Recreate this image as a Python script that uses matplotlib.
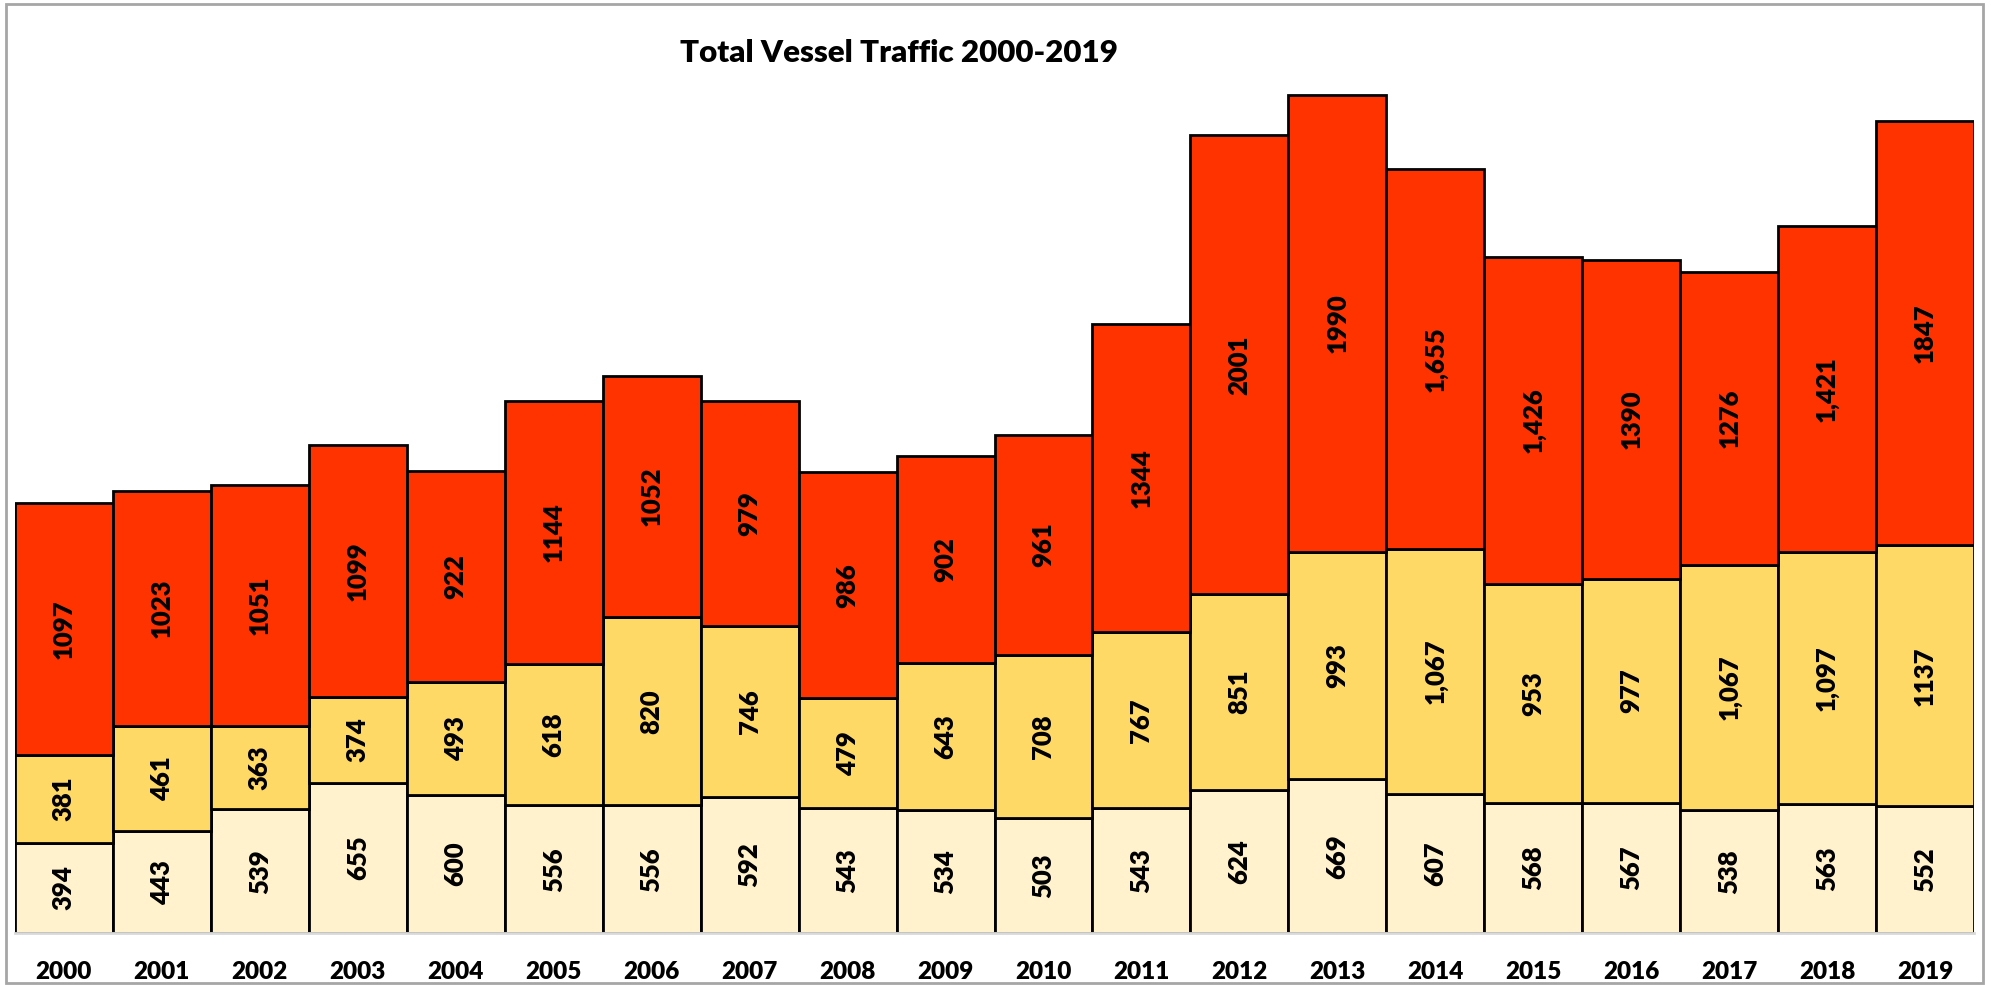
import numpy as np
import matplotlib.pyplot as plt
from matplotlib.patches import Rectangle

# === Data ===
years = [str(y) for y in range(2000, 2020)]
bottom_vals = [394, 443, 539, 655, 600, 556, 556, 592, 543, 534,
               503, 543, 624, 669, 607, 568, 567, 538, 563, 552]
middle_vals = [381, 461, 363, 374, 493, 618, 820, 746, 479, 643,
               708, 767, 851, 993, 1067, 953, 977, 1067, 1097, 1137]
top_vals = [1097, 1023, 1051, 1099, 922, 1144, 1052, 979, 986, 902,
            961, 1344, 2001, 1990, 1655, 1426, 1390, 1276, 1421, 1847]
# labels as printed on the chart (mixed comma formatting)
bottom_labels = [str(v) for v in bottom_vals]
middle_labels = ['381', '461', '363', '374', '493', '618', '820', '746', '479', '643',
                 '708', '767', '851', '993', '1,067', '953', '977', '1,067', '1,097', '1137']
top_labels = ['1097', '1023', '1051', '1099', '922', '1144', '1052', '979', '986', '902',
              '961', '1344', '2001', '1990', '1,655', '1,426', '1390', '1276', '1,421', '1847']

colors = ['#FFF2CC', '#FFD966', '#FF3300']
font = 'Lato'

# === Figure ===
fig = plt.figure(figsize=(19.93, 9.85), dpi=100)
ax = fig.add_axes([0.0075, 0.0528, 0.983, 0.932])

x = np.arange(len(years))
b = np.array(bottom_vals)
m = np.array(middle_vals)
t = np.array(top_vals)

layers = [(b, np.zeros_like(b), bottom_labels),
          (m, b, middle_labels),
          (t, b + m, top_labels)]
for (vals, base, labels), c in zip(layers, colors):
    ax.bar(x, vals, bottom=base, width=1.0, color=c, edgecolor='black', linewidth=2)
    for xi, v, bs, lab in zip(x, vals, base, labels):
        ax.text(xi, bs + v / 2, lab, rotation=90, ha='center', va='center',
                fontsize=18.5, fontweight='heavy', family=font)

ax.set_xlim(-0.5, 19.5)
ax.set_ylim(0, 4000)
ax.set_xticks(x)
ax.set_xticklabels(years, fontsize=17.5, fontweight='heavy', family=font)
ax.tick_params(axis='x', length=0, pad=20)
ax.set_yticks([])
for s in ['left', 'right', 'top']:
    ax.spines[s].set_visible(False)
ax.spines['bottom'].set_color('#D9D9D9')
ax.spines['bottom'].set_linewidth(2)

fig.text(0.451, 0.946, 'Total Vessel Traffic 2000-2019', ha='center', va='center',
         fontsize=22.5, fontweight='heavy', family=font)

# outer chart border
fig.patches.append(Rectangle((0.003, 0.002), 0.992, 0.994, transform=fig.transFigure,
                             fill=False, edgecolor='#A6A6A6', linewidth=2))

fig.savefig('out.png', dpi=100)
